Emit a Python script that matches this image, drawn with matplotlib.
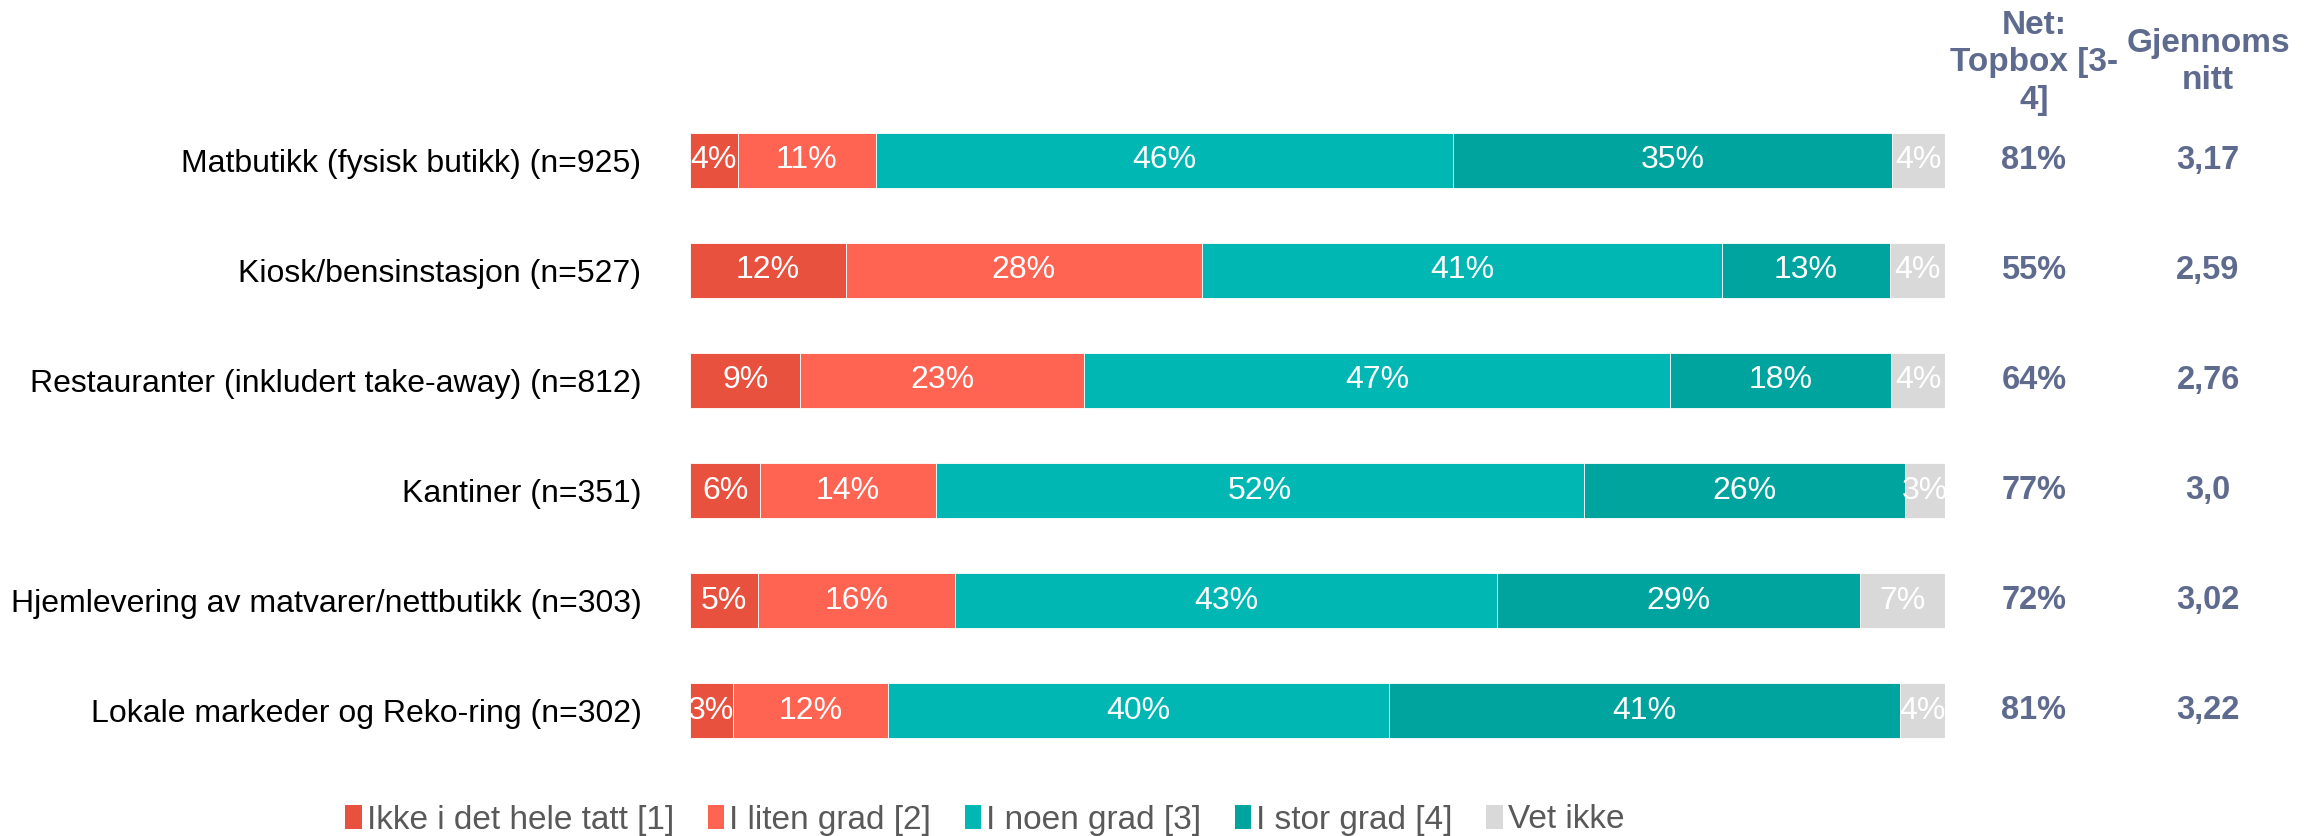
import numpy as np
import matplotlib
matplotlib.use("Agg")
import matplotlib.pyplot as plt
from matplotlib.patches import Patch
from matplotlib.transforms import blended_transform_factory

plt.rcParams['font.family'] = ['Liberation Sans', 'DejaVu Sans']

# Survey data (share of respondents, %)
categories = [
    'Matbutikk (fysisk butikk) (n=925)',
    'Kiosk/bensinstasjon (n=527)',
    'Restauranter (inkludert take-away) (n=812)',
    'Kantiner (n=351)',
    'Hjemlevering av matvarer/nettbutikk (n=303)',
    'Lokale markeder og Reko-ring (n=302)',
]
ikke_i_det_hele_tatt = [3.8, 12.4, 8.8, 5.6, 5.4, 3.4]
i_liten_grad = [11.0, 28.4, 22.6, 14.0, 15.7, 12.4]
i_noen_grad = [46.0, 41.4, 46.7, 51.6, 43.2, 39.9]
i_stor_grad = [35.0, 13.4, 17.6, 25.6, 28.9, 40.7]
vet_ikke = [4.2, 4.4, 4.3, 3.2, 6.8, 3.6]
gjennomsnitt = ['3,17', '2,59', '2,76', '3,0', '3,02', '3,22']

series_names = ['Ikke i det hele tatt [1]', 'I liten grad [2]', 'I noen grad [3]',
                'I stor grad [4]', 'Vet ikke']
colors = ['#E9513F', '#FF6453', '#00B7B4', '#00A49F', '#D9D9D9']
header_color = '#5F6B8E'

series = [ikke_i_det_hele_tatt, i_liten_grad, i_noen_grad, i_stor_grad, vet_ikke]
topbox = np.array(i_noen_grad) + np.array(i_stor_grad)

fig = plt.figure(figsize=(23.23, 8.36), dpi=100)
ax = fig.add_axes([690 / 2323, 1 - 766 / 836, 1255 / 2323, 661 / 836])

y = np.arange(len(categories))
left = np.zeros(len(categories))
for vals, col in zip(series, colors):
    vals = np.array(vals)
    ax.barh(y, vals, left=left, height=0.5, color=col, edgecolor='#FFFFFF',
            linewidth=0.6)
    for yi, l, v in zip(y, left, vals):
        ax.text(l + v / 2, yi, f'{v:.0f}%', ha='center', va='center',
                color='white', fontsize=23)
    left += vals

ax.set_xlim(0, 100)
ax.set_ylim(len(categories) - 0.5, -0.5)
ax.set_yticks(y)
ax.set_yticklabels(categories, fontsize=23)
ax.tick_params(axis='y', length=0, pad=35)
ax.set_xticks([])
for s in ax.spines.values():
    s.set_visible(False)

# summary columns to the right of the bars
trans = blended_transform_factory(fig.transFigure, ax.transData)
x_net = 2034 / 2323
x_avg = 2208 / 2323
for yi, tb, avg in zip(y, topbox, gjennomsnitt):
    ax.text(x_net, yi, f'{tb:.0f}%', transform=trans, ha='center', va='center',
            fontsize=23.5, fontweight='bold', color=header_color)
    ax.text(x_avg, yi, avg, transform=trans, ha='center', va='center',
            fontsize=23.5, fontweight='bold', color=header_color)

fig.text(x_net, 1 - 63 / 836, 'Net:\nTopbox [3-\n4]', ha='center', va='center',
         fontsize=24, fontweight='bold', color=header_color, linespacing=1.25)
fig.text(x_avg, 1 - 62 / 836, 'Gjennoms\nnitt', ha='center', va='center',
         fontsize=24, fontweight='bold', color=header_color, linespacing=1.25)

handles = [Patch(facecolor=c, edgecolor='none') for c in colors]
fig.legend(handles, series_names, loc='center', bbox_to_anchor=(0.424, 1 - 820 / 836),
           ncol=5, frameon=False, fontsize=24, handlelength=0.5, handleheight=0.7,
           handletextpad=0.15, columnspacing=1.0, labelcolor='#595959')

fig.savefig('out.png', dpi=100)
